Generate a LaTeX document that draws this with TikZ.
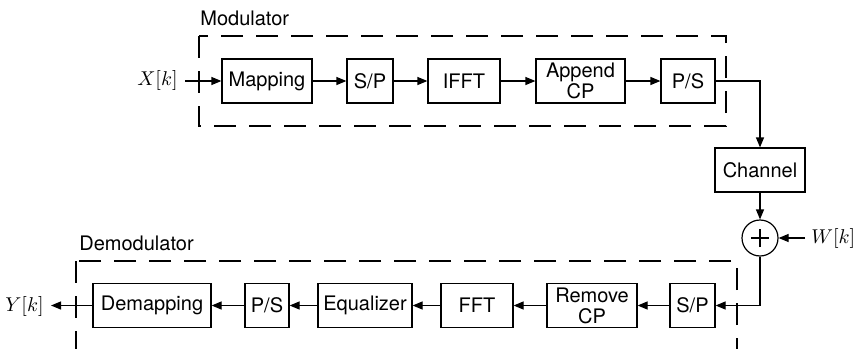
\documentclass[tikz,border=0pt]{standalone}
\usepackage{fontspec}
\setsansfont{TeX Gyre Heros}
\usetikzlibrary{arrows.meta}
\begin{document}
\begin{tikzpicture}[x=0.5pt,y=-0.5pt,
  blk/.style={draw,line width=0.6pt,inner sep=0pt,minimum height=22pt,font=\sffamily\fontsize{10}{10.5}\selectfont,align=center},
  lbl/.style={inner sep=0pt,font=\sffamily\fontsize{10}{11}\selectfont},
  sig/.style={inner sep=0pt,font=\fontsize{10}{12}\selectfont},
  con/.style={line width=0.6pt,-{Triangle[length=5pt,width=4pt]}},
  grp/.style={line width=0.6pt,dash pattern=on 11pt off 6.5pt}]
\clip (0,0) rectangle (856,348);
% group frames
\draw[grp] (199,36) rectangle (726,126);
\draw[grp] (76,261) rectangle (737,400);
\node[lbl,anchor=west] (modl) at (200,18) {Modulator};
\node[lbl,anchor=west] (demodl) at (79,243) {Demodulator};
% top row
\node[blk,minimum width=45pt] (map) at (267,81) {Mapping};
\node[blk,minimum width=23pt] (sp1) at (370,81) {S/P};
\node[blk,minimum width=36pt] (ifft) at (464,81) {IFFT};
\node[blk,minimum width=44.5pt] (acp) at (580.5,81) {Append\\CP};
\node[blk,minimum width=27pt] (ps1) at (688,81) {P/S};
\node[sig,anchor=east] (x) at (178,80) {$X[k]$};
\coordinate (xin) at (185,81);
% channel and sum
\node[blk,minimum width=45pt] (ch) at (760,170) {Channel};
\node[draw,circle,line width=0.6pt,minimum size=18pt,inner sep=0pt] (sum) at (760,238) {};
\draw[line width=0.6pt] ([xshift=-4.5pt]sum.center) -- ([xshift=4.5pt]sum.center)
  ([yshift=-4.5pt]sum.center) -- ([yshift=4.5pt]sum.center);
\node[sig,anchor=west] (w) at (811,238) {$W[k]$};
\coordinate (win) at (805,238);
% bottom row
\node[blk,minimum width=59pt] (demap) at (152,305.5) {Demapping};
\node[blk,minimum width=22pt] (ps2) at (267,305.5) {P/S};
\node[blk,minimum width=47pt] (eq) at (365,305.5) {Equalizer};
\node[blk,minimum width=36pt] (fft) at (477,305.5) {FFT};
\node[blk,minimum width=45pt] (rcp) at (592,305.5) {Remove\\CP};
\node[blk,minimum width=22.5pt] (sp2) at (692.5,305.5) {S/P};
\node[sig,anchor=east] (y) at (44,306) {$Y[k]$};
\coordinate (yout) at (51,305.5);
% connectors
\draw[con] (xin) -- (map);
\draw[con] (map) -- (sp1);
\draw[con] (sp1) -- (ifft);
\draw[con] (ifft) -- (acp);
\draw[con] (acp) -- (ps1);
\draw[con] (ps1.east) -| (ch.north);
\draw[con] (ch.south) -- (sum.north);
\draw[con] (win) -- (sum.east);
\draw[con] (sum.south) |- (sp2.east);
\draw[con] (sp2) -- (rcp);
\draw[con] (rcp) -- (fft);
\draw[con] (fft) -- (eq);
\draw[con] (eq) -- (ps2);
\draw[con] (ps2) -- (demap);
\draw[con] (demap.west) -- (yout);
\end{tikzpicture}
\end{document}
